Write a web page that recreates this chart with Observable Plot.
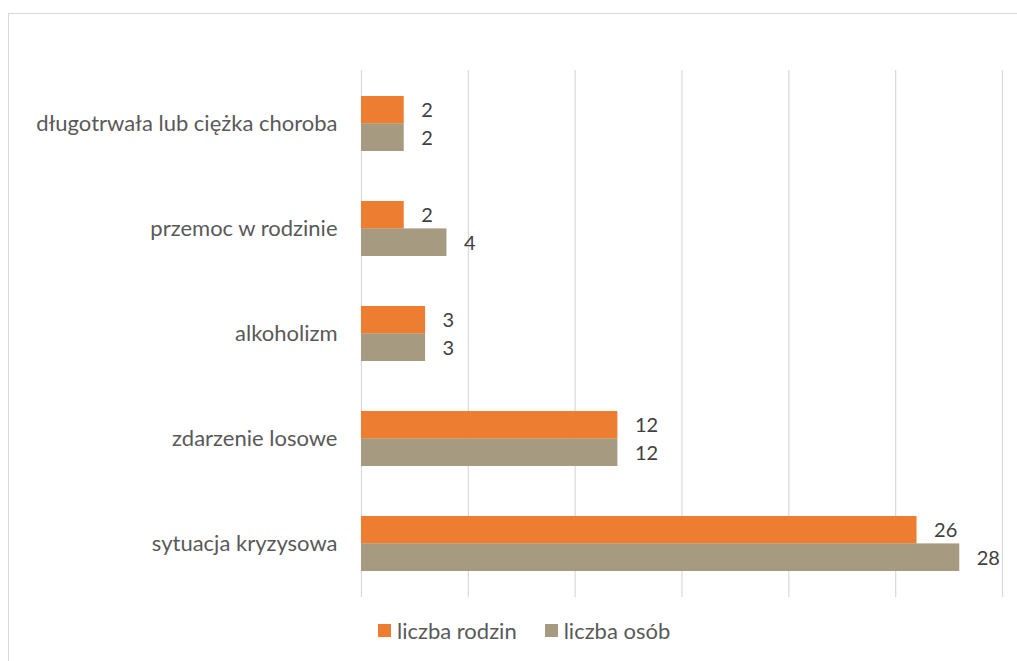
<!DOCTYPE html>
<html>
<head>
<meta charset="utf-8">
<script src="https://cdn.jsdelivr.net/npm/d3@7"></script>
<script src="https://cdn.jsdelivr.net/npm/@observablehq/plot@0.6"></script>
<style>
  html, body { margin: 0; padding: 0; background: #fff; overflow: hidden; width: 1017px; height: 661px; }
  #frame { position: absolute; left: 8px; top: 13px; width: 1100px; height: 700px; border: 1px solid #d9d9d9; box-sizing: border-box; }
  #chart { position: absolute; left: 0; top: 0; }
  #legend { position: absolute; left: 378px; top: 616px; height: 28px; font-family: Lato, "Open Sans", sans-serif; font-size: 22px; color: #595959; display: flex; align-items: center; }
  .item { display: flex; align-items: center; margin-right: 28px; }
  .sw { width: 13px; height: 13px; margin-right: 6px; display: inline-block; }
</style>
</head>
<body>
<div id="frame"></div>
<div id="chart"></div>
<div id="legend"></div>
<script>
const categories = ["długotrwała lub ciężka choroba", "przemoc w rodzinie", "alkoholizm", "zdarzenie losowe", "sytuacja kryzysowa"];
const seriesNames = ["liczba rodzin", "liczba osób"];
const rodziny = [2, 2, 3, 12, 26];
const osoby = [2, 4, 3, 12, 28];
const gridTicks = [0, 5, 10, 15, 20, 25, 30];
const colors = ["#ED7D31", "#A69A81"];

const dataR = categories.map((c, i) => ({category: c, value: rodziny[i]}));
const dataO = categories.map((c, i) => ({category: c, value: osoby[i]}));

const half = 27.4;
const chart = Plot.plot({
  width: 1017,
  height: 612,
  marginTop: 70,
  marginBottom: 15,
  marginLeft: 361,
  marginRight: 15,
  style: {fontFamily: "Lato, 'Open Sans', sans-serif", fontSize: "22px", color: "#595959", background: "transparent"},
  x: {domain: [0, 30], axis: null},
  y: {domain: categories, paddingInner: 0.48, paddingOuter: 0.24, tickSize: 0, tickPadding: 24, label: null},
  marks: [
    Plot.ruleX(gridTicks, {stroke: "#d9d9d9", strokeWidth: 1.2}),
    Plot.barX(dataR, {x: "value", y: "category", fill: colors[0], insetBottom: half}),
    Plot.barX(dataO, {x: "value", y: "category", fill: colors[1], insetTop: half}),
    Plot.text(dataR, {x: "value", y: "category", text: d => String(d.value), dx: 17, dy: -13, textAnchor: "start", fill: "#404040", fontSize: 20}),
    Plot.text(dataO, {x: "value", y: "category", text: d => String(d.value), dx: 17, dy: 15, textAnchor: "start", fill: "#404040", fontSize: 20})
  ]
});
document.getElementById("chart").appendChild(chart);

const legend = document.getElementById("legend");
seriesNames.forEach((name, i) => {
  const item = document.createElement("span");
  item.className = "item";
  const sw = document.createElement("span");
  sw.className = "sw";
  sw.style.background = colors[i];
  item.appendChild(sw);
  item.appendChild(document.createTextNode(name));
  legend.appendChild(item);
});
</script>
</body>
</html>
